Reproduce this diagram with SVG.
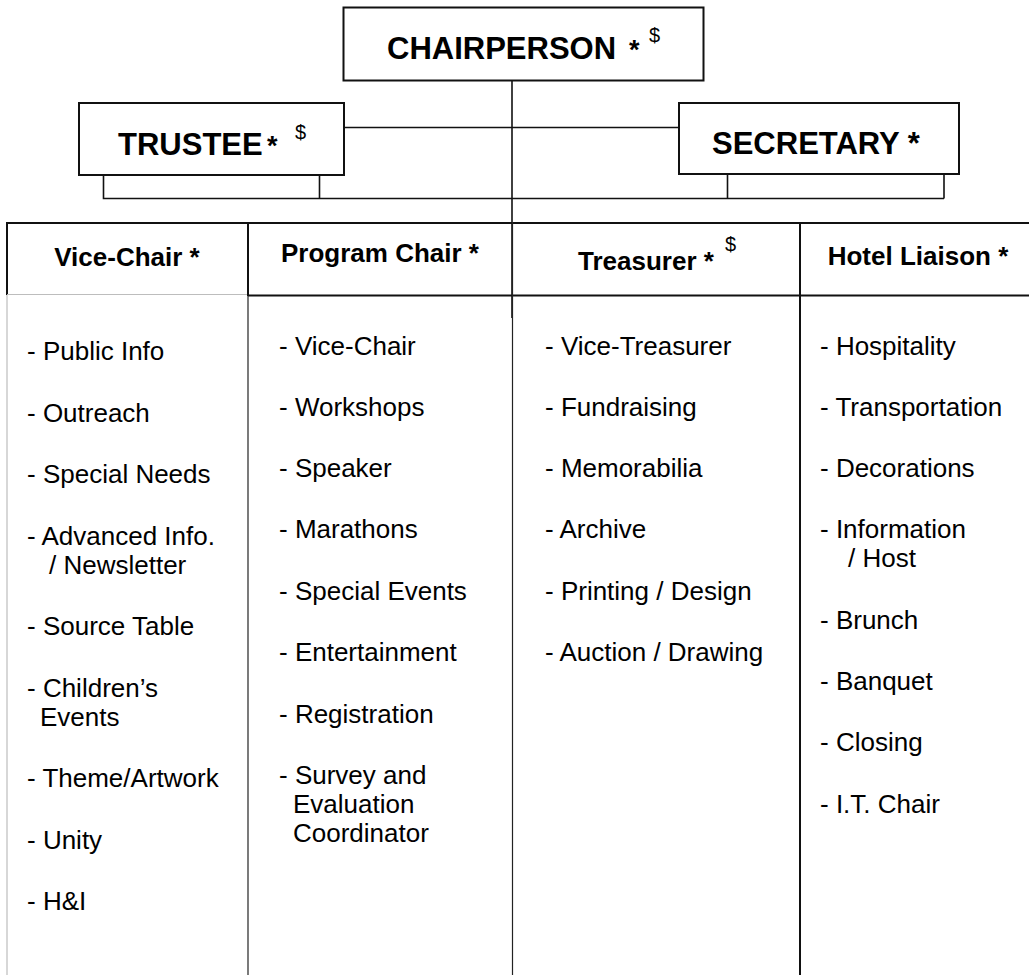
<svg xmlns="http://www.w3.org/2000/svg" width="1029" height="975" viewBox="0 0 1029 975">
<style>
  .box { fill: #fff; stroke: #111; stroke-width: 2; }
  .conn { fill: none; stroke: #111; stroke-width: 1.6; }
  .tl { fill: none; stroke: #111; stroke-width: 2; }
  .thin { fill: none; stroke: #222; stroke-width: 1.2; }
  .grey { fill: none; stroke: #bdbdbd; stroke-width: 1.2; }
  .big { font-family: "Liberation Sans", Arial, sans-serif; font-weight: bold; font-size: 31px; fill: #000; }
  .hdr { font-family: "Liberation Sans", Arial, sans-serif; font-weight: bold; font-size: 26px; fill: #000; }
  .item { font-family: "Liberation Sans", Arial, sans-serif; font-size: 26px; fill: #000; }
  .sup { font-family: "Liberation Sans", Arial, sans-serif; font-weight: normal; font-size: 20px; fill: #000; }
</style>
<rect width="1029" height="975" fill="#fff"/>

<g id="connectors">
  <path class="conn" d="M512,80 V318"/>
  <path class="conn" d="M344,127.5 H679"/>
  <path class="conn" d="M103.5,175 V198.5 H944 M319.5,175 V198.5 M727.5,174 V198.5 M944,174 V198.5"/>
</g>

<g id="chairperson">
  <rect class="box" x="343.5" y="7.5" width="360" height="73"/>
  <text class="big" x="387" y="59">CHAIRPERSON<tspan x="629" font-size="27">*</tspan><tspan class="sup" x="649" y="42">$</tspan></text>
</g>

<g id="trustee">
  <rect class="box" x="79" y="103" width="265" height="72"/>
  <text class="big" x="118" y="155">TRUSTEE<tspan x="267" font-size="27">*</tspan><tspan class="sup" x="295" y="139">$</tspan></text>
</g>

<g id="secretary">
  <rect class="box" x="679" y="103" width="280" height="71"/>
  <text class="big" x="712" y="154">SECRETARY *</text>
</g>

<g id="table">
  <path class="tl" d="M7,223 H1029"/>
  <path class="tl" d="M7,222 V295"/>
  <path class="grey" d="M7,295 V975"/>
  <path class="grey" d="M7,294.5 H248"/>
  <path class="tl" d="M248,295.5 H1029"/>
  <path class="tl" d="M248,222 V296"/>
  <path class="thin" d="M248,296 V975"/>
  <path class="thin" d="M512.5,222 V975"/>
  <path class="tl" d="M800,222 V975"/>
</g>

<g id="vice-chair">
  <text class="hdr" x="127" y="265.5" text-anchor="middle">Vice-Chair *</text>
  <text class="item" x="27" y="360">- Public Info</text>
  <text class="item" x="27" y="421.5">- Outreach</text>
  <text class="item" x="27" y="483">- Special Needs</text>
  <text class="item" x="27" y="544.5">- Advanced Info.</text>
  <text class="item" x="49" y="573.5">/ Newsletter</text>
  <text class="item" x="27" y="635">- Source Table</text>
  <text class="item" x="27" y="696.5">- Children’s</text>
  <text class="item" x="40" y="725.5">Events</text>
  <text class="item" x="27" y="787">- Theme/Artwork</text>
  <text class="item" x="27" y="848.5">- Unity</text>
  <text class="item" x="27" y="910">- H&amp;I</text>
</g>

<g id="program-chair">
  <text class="hdr" x="380" y="262" text-anchor="middle">Program Chair *</text>
  <text class="item" x="279" y="355">- Vice-Chair</text>
  <text class="item" x="279" y="416">- Workshops</text>
  <text class="item" x="279" y="477">- Speaker</text>
  <text class="item" x="279" y="538">- Marathons</text>
  <text class="item" x="279" y="599.5">- Special Events</text>
  <text class="item" x="279" y="661">- Entertainment</text>
  <text class="item" x="279" y="722.5">- Registration</text>
  <text class="item" x="279" y="784">- Survey and</text>
  <text class="item" x="293" y="813">Evaluation</text>
  <text class="item" x="293" y="842">Coordinator</text>
</g>

<g id="treasurer">
  <text class="hdr" x="578" y="270">Treasurer *<tspan class="sup" x="725" y="251">$</tspan></text>
  <text class="item" x="545" y="355">- Vice-Treasurer</text>
  <text class="item" x="545" y="416">- Fundraising</text>
  <text class="item" x="545" y="477">- Memorabilia</text>
  <text class="item" x="545" y="538">- Archive</text>
  <text class="item" x="545" y="599.5">- Printing / Design</text>
  <text class="item" x="545" y="661">- Auction / Drawing</text>
</g>

<g id="hotel-liaison">
  <text class="hdr" x="918" y="265" text-anchor="middle">Hotel Liaison *</text>
  <text class="item" x="820" y="355">- Hospitality</text>
  <text class="item" x="820" y="416">- Transportation</text>
  <text class="item" x="820" y="477">- Decorations</text>
  <text class="item" x="820" y="538">- Information</text>
  <text class="item" x="848" y="567">/ Host</text>
  <text class="item" x="820" y="629">- Brunch</text>
  <text class="item" x="820" y="690">- Banquet</text>
  <text class="item" x="820" y="751">- Closing</text>
  <text class="item" x="820" y="813">- I.T. Chair</text>
</g>
</svg>
